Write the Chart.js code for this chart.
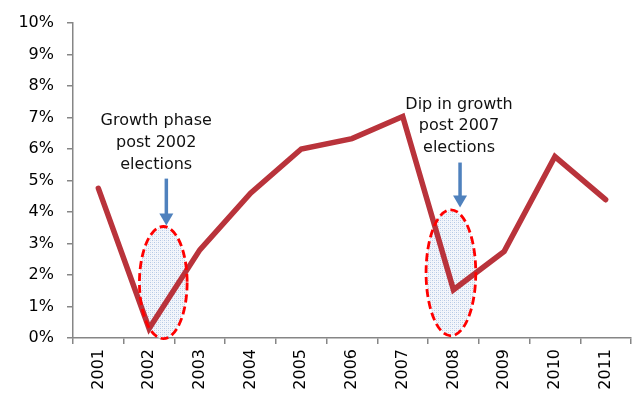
<!DOCTYPE html>
<html>
<head>
<meta charset="utf-8">
<script src="https://cdn.jsdelivr.net/npm/chart.js@4"></script>
<style>
	html, body { margin: 0; padding: 0; background: #fff; }
	#wrap { width: 632px; height: 394px; }
</style>
</head>
<body>
<div id="wrap"><canvas id="growthChart"></canvas></div>
<script>
"use strict";

const years = ["2001", "2002", "2003", "2004", "2005", "2006", "2007", "2008", "2009", "2010", "2011"];
const growth = [4.75, 0.3, 2.8, 4.6, 6.0, 6.33, 7.03, 1.53, 2.75, 5.76, 4.39];
const yMax = 10;

const noteTexts = [
	["Growth phase", "post 2002", "elections"],
	["Dip in growth", "post 2007", "elections"]
];

// annotation placement in axis units (x = category index, y = percent)
const notes = [
	{ text: { x: 1.14, y: 6.88 }, arrow: { x: 1.34, from: 5.06, to: 3.57 }, ellipse: { x: 1.28, y: 1.76, rx: 0.47, ry: 1.78 } },
	{ text: { x: 7.11, y: 7.41 }, arrow: { x: 7.13, from: 5.57, to: 4.14 }, ellipse: { x: 6.95, y: 2.07, rx: 0.49, ry: 2.0 } }
];

const axisGrey = "#868686";
const fontFamily = "'DejaVu Sans', sans-serif";

const buildDotPattern = (ctx) => {
	let tile = document.createElement("canvas");
	tile.width = 4;
	tile.height = 4;
	let tctx = tile.getContext("2d");
	tctx.fillStyle = "#f3f6fb";
	tctx.fillRect(0, 0, 4, 4);
	tctx.fillStyle = "#b4c8e4";
	tctx.fillRect(0, 0, 1, 1);
	tctx.fillRect(2, 2, 1, 1);
	tctx.fillStyle = "#d3dff0";
	tctx.fillRect(2, 0, 1, 1);
	tctx.fillRect(0, 2, 1, 1);
	return ctx.createPattern(tile, "repeat");
};

const ellipsePath = (chart, e) => {
	let x = chart.scales.x, y = chart.scales.y;
	let cx = x.getPixelForValue(e.x);
	let cy = y.getPixelForValue(e.y);
	let rx = x.getPixelForValue(e.x + e.rx) - cx;
	let ry = cy - y.getPixelForValue(e.y + e.ry);
	let ctx = chart.ctx;
	ctx.beginPath();
	ctx.ellipse(cx, cy, rx, ry, 0, 0, Math.PI * 2);
};

const electionNotes = {
	id: "electionNotes",
	beforeDatasetsDraw(chart) {
		let ctx = chart.ctx;
		ctx.save();
		ctx.fillStyle = buildDotPattern(ctx);
		for (let note of notes) {
			ellipsePath(chart, note.ellipse);
			ctx.fill();
		}
		ctx.restore();
	},
	afterDatasetsDraw(chart) {
		let ctx = chart.ctx;
		let x = chart.scales.x, y = chart.scales.y;
		ctx.save();
		// dashed outlines
		ctx.strokeStyle = "#ff0000";
		ctx.lineWidth = 2.8;
		ctx.setLineDash([8, 4]);
		for (let note of notes) {
			ellipsePath(chart, note.ellipse);
			ctx.stroke();
		}
		ctx.setLineDash([]);
		// arrows
		ctx.strokeStyle = "#4f81bd";
		ctx.fillStyle = "#4f81bd";
		for (let note of notes) {
			let ax = x.getPixelForValue(note.arrow.x);
			let top = y.getPixelForValue(note.arrow.from);
			let tip = y.getPixelForValue(note.arrow.to);
			let headLength = 12;
			ctx.lineWidth = 3.5;
			ctx.beginPath();
			ctx.moveTo(ax, top);
			ctx.lineTo(ax, tip - headLength + 1);
			ctx.stroke();
			ctx.beginPath();
			ctx.moveTo(ax - 7, tip - headLength);
			ctx.lineTo(ax + 7, tip - headLength);
			ctx.lineTo(ax, tip);
			ctx.closePath();
			ctx.fill();
		}
		// captions
		ctx.fillStyle = "#111";
		ctx.font = "16px " + fontFamily;
		ctx.textAlign = "center";
		ctx.textBaseline = "middle";
		notes.forEach((note, noteIndex) => {
			let tx = x.getPixelForValue(note.text.x);
			let ty = y.getPixelForValue(note.text.y);
			noteTexts[noteIndex].forEach((line, lineIndex) => {
				ctx.fillText(line, tx, ty + lineIndex * 21.7);
			});
		});
		ctx.restore();
	}
};

const canvas = document.querySelector("canvas#growthChart");
new Chart(canvas, {
	type: "line",
	data: {
		labels: years,
		datasets: [{
			data: growth,
			borderColor: "#b9333b",
			borderWidth: 5.5,
			borderCapStyle: "round",
			borderJoinStyle: "miter",
			pointRadius: 0,
			tension: 0,
			fill: false
		}]
	},
	options: {
		responsive: true,
		maintainAspectRatio: false,
		animation: false,
		devicePixelRatio: 1,
		layout: {
			padding: { top: 23, right: 1, left: 0, bottom: 0 }
		},
		plugins: {
			legend: { display: false },
			tooltip: { enabled: false }
		},
		scales: {
			x: {
				offset: true,
				grid: {
					offset: true,
					drawOnChartArea: false,
					color: axisGrey,
					tickLength: 6,
					lineWidth: 1.5
				},
				border: { color: axisGrey, width: 1.5 },
				ticks: {
					autoSkip: false,
					maxRotation: 90,
					minRotation: 90,
					padding: 5,
					color: "#000",
					font: { family: fontFamily, size: 16 }
				},
				afterFit: scale => { scale.height = 56; }
			},
			y: {
				min: 0,
				max: yMax,
				ticks: {
					stepSize: 1,
					padding: 13,
					color: "#000",
					font: { family: fontFamily, size: 16 },
					callback: value => value + "%"
				},
				grid: {
					drawOnChartArea: false,
					color: axisGrey,
					tickLength: 6,
					lineWidth: 1.5
				},
				border: { color: axisGrey, width: 1.5 },
				afterFit: scale => { scale.width = 73; }
			}
		}
	},
	plugins: [electionNotes]
});
</script>
</body>
</html>
